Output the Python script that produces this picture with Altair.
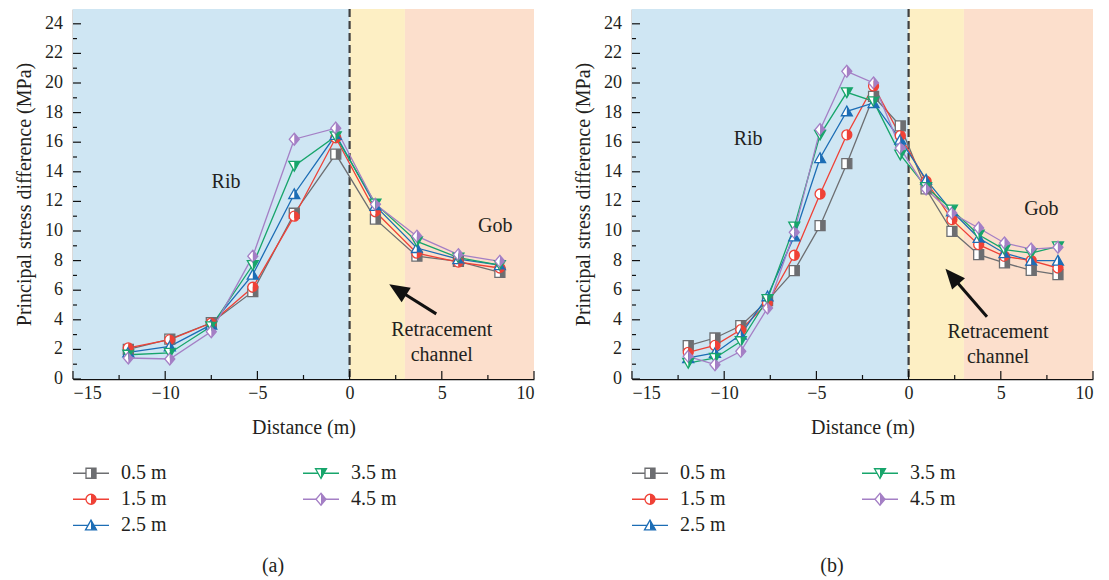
import math
import altair as alt
import pandas as pd

# ---- series -------------------------------------------------------------
SERIES = ["0.5 m", "1.5 m", "2.5 m", "3.5 m", "4.5 m"]
COLORS = ["#6d6e71", "#ef4136", "#1c6db5", "#17a56b", "#a47fc5"]

# panel (a)
A_X = [-12.0, -9.75, -7.5, -5.25, -3.0, -0.75, 1.4, 3.65, 5.9, 8.15]
A_05 = [2.0, 2.7, 3.8, 5.9, 11.2, 15.2, 10.8, 8.3, 7.95, 7.2]
A_15 = [2.1, 2.66, 3.78, 6.2, 11.0, 16.3, 11.3, 8.5, 7.9, 7.5]
A_25 = [1.8, 2.2, 3.67, 7.05, 12.5, 16.5, 11.7, 8.85, 8.1, 7.7]
A_35 = [1.64, 1.76, 3.56, 7.7, 14.4, 16.4, 11.85, 9.3, 8.2, 7.7]
A_45 = [1.42, 1.35, 3.2, 8.3, 16.2, 16.95, 11.8, 9.65, 8.4, 7.95]

# panel (b)
B_X = [-11.95, -10.5, -9.1, -7.65, -6.2, -4.8, -3.35, -1.9, -0.45,
       0.95, 2.35, 3.8, 5.2, 6.65, 8.1]
B_05 = [2.25, 2.77, 3.6, 5.3, 7.32, 10.36, 14.55, 19.1, 17.1,
        12.84, 9.98, 8.4, 7.84, 7.34, 7.05]
B_15 = [1.8, 2.27, 3.33, 5.13, 8.36, 12.5, 16.5, 19.8, 16.44,
        13.36, 10.77, 9.08, 8.29, 8.0, 7.5]
B_25 = [1.42, 1.76, 3.0, 5.59, 9.64, 14.93, 18.09, 18.65, 16.17,
        13.47, 11.33, 9.53, 8.5, 8.0, 8.0]
B_35 = [1.08, 1.42, 2.55, 5.4, 10.3, 16.5, 19.37, 18.76, 15.16,
        12.97, 11.44, 9.75, 8.74, 8.5, 8.96]
B_45 = [1.53, 0.97, 1.87, 4.8, 9.91, 16.85, 20.79, 20.0, 15.6,
        12.84, 11.2, 10.2, 9.19, 8.78, 8.9]

ZONES = ["Rib", "Retracement channel", "Gob"]
ZONE_FROM = [-15, 0, 3]
ZONE_TO = [0, 3, 10]
ZONE_COLORS = ["#cfe6f3", "#fdefc4", "#fcdfcc"]

X_TICKS = list(range(-15, 11, 5))
X_MINOR = [-12.5, -7.5, -2.5, 2.5, 7.5]
Y_TICKS = list(range(0, 25, 2))
Y_MINOR = list(range(1, 25, 2))

# ---- styling --------------------------------------------------------------
FONT = "Liberation Serif"
INK = "#231f20"
W, H = 461, 370

# marker outlines and their filled right halves (unit box -1..1)
FULL_SHAPES = [
    "M-1,-1L1,-1L1,1L-1,1Z",
    "M0,-1A1,1,0,1,1,0,1A1,1,0,1,1,0,-1Z",
    "M0,-1.05L1.1,0.9L-1.1,0.9Z",
    "M-1.1,-0.9L1.1,-0.9L0,1.05Z",
    "M0,-1.2L1,0L0,1.2L-1,0Z",
]
HALF_SHAPES = [
    "M0,-1L1,-1L1,1L0,1Z",
    "M0,-1A1,1,0,0,1,0,1Z",
    "M0,-1.05L1.1,0.9L0,0.9Z",
    "M0,-0.9L1.1,-0.9L0,1.05Z",
    "M0,-1.2L1,0L0,1.2Z",
]
ARROW_HEAD = "M0,0L0.85,2L-0.85,2Z"
MARK_SIZE = 100

XS = alt.Scale(domain=[-15, 10], nice=False, zero=False)
YS = alt.Scale(domain=[0, 25], nice=False)
CS = alt.Scale(domain=SERIES, range=COLORS)

X_AXIS = alt.Axis(values=X_TICKS, title="Distance (m)", grid=False, ticks=False,
                  tickSize=0, labelPadding=5, titlePadding=15, format="d",
                  labelOverlap=False)
# y tick labels are drawn as a text layer so that every even value shows
Y_AXIS = alt.Axis(values=Y_TICKS, title="Principal stress difference (MPa)",
                  grid=False, ticks=False, tickSize=0, labels=False,
                  titlePadding=39)


def xenc(field):
    return alt.X(f"{field}:Q", scale=XS, axis=X_AXIS)


def yenc(field):
    return alt.Y(f"{field}:Q", scale=YS, axis=Y_AXIS)


def long_table(xs, columns):
    rows = []
    for name, vals in zip(SERIES, columns):
        for x, y in zip(xs, vals):
            rows.append({"series": name, "x": x, "y": y})
    return pd.DataFrame(rows)


def panel(table, notes, arrow):
    zones = pd.DataFrame({"zone": ZONES, "x0": ZONE_FROM, "x1": ZONE_TO,
                          "paint": ZONE_COLORS})
    background = alt.Chart(zones).mark_rect().encode(
        x=xenc("x0"), x2="x1", y=alt.datum(0), y2=alt.datum(25),
        color=alt.Color("paint:N", scale=None, legend=None),
    )
    divider = alt.Chart(pd.DataFrame({"x": [0]})).mark_rule(
        color="#404040", strokeWidth=2.2, strokeDash=[8, 4]
    ).encode(x=xenc("x"))

    lines = alt.Chart(table).mark_line(strokeWidth=1.3).encode(
        x=xenc("x"), y=yenc("y"),
        color=alt.Color("series:N", scale=CS, legend=None),
        detail="series:N",
    )
    outline = alt.Chart(table).mark_point(
        filled=True, fill="white", opacity=1, strokeWidth=1.3, size=MARK_SIZE
    ).encode(
        x=xenc("x"), y=yenc("y"),
        stroke=alt.Stroke("series:N", scale=CS, legend=None),
        shape=alt.Shape("series:N", scale=alt.Scale(domain=SERIES, range=FULL_SHAPES),
                        legend=None),
    )
    halves = alt.Chart(table).mark_point(
        filled=True, opacity=1, strokeWidth=0, size=MARK_SIZE
    ).encode(
        x=xenc("x"), y=yenc("y"),
        fill=alt.Fill("series:N", scale=CS, legend=None),
        shape=alt.Shape("series:N", scale=alt.Scale(domain=SERIES, range=HALF_SHAPES),
                        legend=None),
    )

    # inward tick marks and y tick labels
    tick_style = dict(color="#111111", strokeWidth=1.2)
    y_major = alt.Chart(pd.DataFrame({"y": Y_TICKS})).mark_rule(**tick_style).encode(
        y=yenc("y"), x=alt.value(0), x2=alt.value(8))
    y_minor = alt.Chart(pd.DataFrame({"y": Y_MINOR})).mark_rule(**tick_style).encode(
        y=yenc("y"), x=alt.value(0), x2=alt.value(4))
    x_major = alt.Chart(pd.DataFrame({"x": X_TICKS})).mark_rule(**tick_style).encode(
        x=xenc("x"), y=alt.value(H), y2=alt.value(H - 8))
    x_minor = alt.Chart(pd.DataFrame({"x": X_MINOR})).mark_rule(**tick_style).encode(
        x=xenc("x"), y=alt.value(H), y2=alt.value(H - 4))
    y_labels = alt.Chart(pd.DataFrame({"y": Y_TICKS})).mark_text(
        font=FONT, fontSize=18, color=INK, align="right", baseline="middle", dx=-10
    ).encode(y=yenc("y"), x=alt.value(0), text=alt.Text("y:Q", format="d"))

    labels = alt.Chart(pd.DataFrame(notes)).mark_text(
        font=FONT, fontSize=20, color=INK
    ).encode(x=xenc("x"), y=yenc("y"), text="text:N")

    (tx, ty), (hx, hy) = arrow
    dx = (hx - tx) * W / 25
    dy = (hy - ty) * H / 25
    angle = math.degrees(math.atan2(dx, dy)) % 360
    shaft = alt.Chart(pd.DataFrame({
        "x0": [tx], "y0": [ty],
        "x1": [tx + 0.7 * (hx - tx)], "y1": [ty + 0.7 * (hy - ty)],
    })).mark_rule(color="#111111", strokeWidth=3).encode(
        x=xenc("x0"), y=yenc("y0"), x2="x1", y2="y1")
    head = alt.Chart(pd.DataFrame({"x": [hx], "y": [hy]})).mark_point(
        shape=ARROW_HEAD, size=400, angle=angle, filled=True, opacity=1,
        color="#111111", strokeWidth=0
    ).encode(x=xenc("x"), y=yenc("y"))

    return alt.layer(
        background, divider, lines, outline, halves,
        y_major, y_minor, x_major, x_minor, y_labels, labels, shaft, head
    ).resolve_scale(shape="independent").properties(width=W, height=H)


def legend(caption):
    col = [0, 0, 0, 1, 1]
    row = [0, 1, 2, 0, 1]
    t = pd.DataFrame({"series": SERIES, "col": col, "row": row})
    t["x0"] = t["col"] * 230
    t["x1"] = t["x0"] + 36
    t["xm"] = t["x0"] + 18
    t["xt"] = t["x0"] + 48
    lx = alt.Scale(domain=[0, W], nice=False, zero=False)
    ly = alt.Scale(domain=[-0.7, 4.1], reverse=True, nice=False, zero=False)
    X = lambda f: alt.X(f"{f}:Q", scale=lx, axis=None)
    Y = lambda f: alt.Y(f"{f}:Q", scale=ly, axis=None)

    seg = alt.Chart(t).mark_rule(strokeWidth=1.3).encode(
        x=X("x0"), x2="x1", y=Y("row"),
        color=alt.Color("series:N", scale=CS, legend=None))
    outline = alt.Chart(t).mark_point(
        filled=True, fill="white", opacity=1, strokeWidth=1.3, size=MARK_SIZE
    ).encode(
        x=X("xm"), y=Y("row"),
        stroke=alt.Stroke("series:N", scale=CS, legend=None),
        shape=alt.Shape("series:N", scale=alt.Scale(domain=SERIES, range=FULL_SHAPES),
                        legend=None))
    halves = alt.Chart(t).mark_point(
        filled=True, opacity=1, strokeWidth=0, size=MARK_SIZE
    ).encode(
        x=X("xm"), y=Y("row"),
        fill=alt.Fill("series:N", scale=CS, legend=None),
        shape=alt.Shape("series:N", scale=alt.Scale(domain=SERIES, range=HALF_SHAPES),
                        legend=None))
    names = alt.Chart(t).mark_text(
        font=FONT, fontSize=20, color=INK, align="left"
    ).encode(x=X("xt"), y=Y("row"), text="series:N")
    cap = alt.Chart(pd.DataFrame({"x": [200], "y": [3.55], "text": [caption]})).mark_text(
        font=FONT, fontSize=20, color=INK
    ).encode(x=X("x"), y=Y("y"), text="text:N")
    return alt.layer(seg, outline, halves, names, cap).resolve_scale(
        shape="independent").properties(width=W, height=125)


notes_a = {"x": [-6.7, 7.9, 5.0, 5.0], "y": [13.3, 10.35, 3.3, 1.65],
           "text": ["Rib", "Gob", "Retracement", "channel"]}
notes_b = {"x": [-8.7, 7.2, 4.85, 4.85], "y": [16.25, 11.5, 3.2, 1.5],
           "text": ["Rib", "Gob", "Retracement", "channel"]}

arrow_a = ((4.7, 4.4), (2.15, 6.4))
arrow_b = ((4.25, 4.2), (2.0, 7.45))

col_a = alt.vconcat(panel(long_table(A_X, [A_05, A_15, A_25, A_35, A_45]), notes_a, arrow_a),
                    legend("(a)"), spacing=18)
col_b = alt.vconcat(panel(long_table(B_X, [B_05, B_15, B_25, B_35, B_45]), notes_b, arrow_b),
                    legend("(b)"), spacing=18)

chart = alt.hconcat(col_a, col_b, spacing=38).resolve_scale(
    shape="independent"
).properties(
    padding={"left": 14, "top": 7, "right": 0, "bottom": 0}
).configure_view(stroke=None).configure_axis(
    labelFont=FONT, labelFontSize=18, labelColor=INK,
    titleFont=FONT, titleFontSize=20, titleFontWeight="normal", titleColor=INK,
    domainColor="#111111", domainWidth=1.3,
)

chart.save("out.html", embed_options={"renderer": "svg", "actions": False})
